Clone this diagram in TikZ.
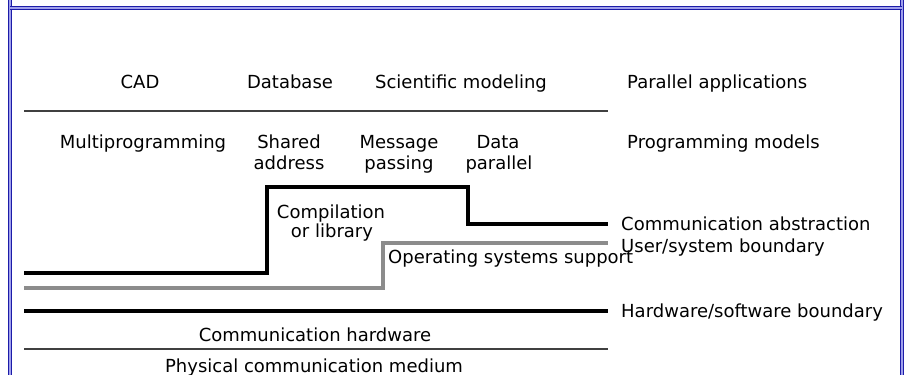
\documentclass[tikz,border=0pt]{standalone}
\usepackage{fontspec}
\setmainfont{DejaVu Sans}
\definecolor{frameDark}{RGB}{28,28,168}
\definecolor{frameLight}{RGB}{160,160,235}
\begin{document}
\begin{tikzpicture}[x=1pt,y=-1pt,
  lbl/.style={inner sep=0pt, anchor=base, font=\fontsize{18}{21}\selectfont},
  lblw/.style={lbl, anchor=base west},
  thinrule/.style={line width=1.2pt, draw=black!75},
  thickrule/.style={line width=4pt, draw=black},
  grayrule/.style={line width=4pt, draw=black!45},
  frameline/.style={line width=1.2pt, draw=frameDark, double=frameLight, double distance=2pt}]
\useasboundingbox (0,0) rectangle (911,375);

% frame
\draw[frameline] (10,0) -- (10,375);
\draw[frameline] (902,0) -- (902,375);
\draw[frameline] (10,7.7) -- (902,7.7);

% applications row
\node[lbl] (cad) at (140,88) {CAD};
\node[lbl] (db) at (290,88) {Database};
\node[lbl] (sci) at (461,88) {Scientific modeling};
\node[lblw] (apps) at (627,88) {Parallel applications};
\draw[thinrule] (24,111) -- (608,111);

% programming models row
\node[lbl] (multi) at (143,148) {Multiprogramming};
\node[lbl] (shA) at (289,148) {Shared};
\node[lbl] (shB) at (289,169) {address};
\node[lbl] (mpA) at (399,148) {Message};
\node[lbl] (mpB) at (399,169) {passing};
\node[lbl] (dpA) at (498,148) {Data};
\node[lbl] (dpB) at (499,169) {parallel};
\node[lblw] (models) at (627,148) {Programming models};

% communication abstraction
\draw[thickrule] (24,273) -- (267,273) -- (267,187) -- (468,187) -- (468,224) -- (608,224);
\node[lblw] (abs) at (621,230) {Communication abstraction};
\node[lbl] (compA) at (331,218) {Compilation};
\node[lbl] (compB) at (332,237) {or library};

% user/system boundary
\draw[grayrule] (24,288) -- (383,288) -- (383,243) -- (608,243);
\node[lblw] (usr) at (621,252) {User/system boundary};
\node[lblw] (os) at (388,263) {Operating systems support};

% hardware/software boundary
\draw[thickrule] (24,311) -- (608,311);
\node[lblw] (hw) at (621,317) {Hardware/software boundary};
\node[lbl] (chw) at (315,341) {Communication hardware};
\draw[thinrule] (24,349) -- (608,349);
\node[lbl] (phys) at (314,372) {Physical communication medium};
\end{tikzpicture}
\end{document}
